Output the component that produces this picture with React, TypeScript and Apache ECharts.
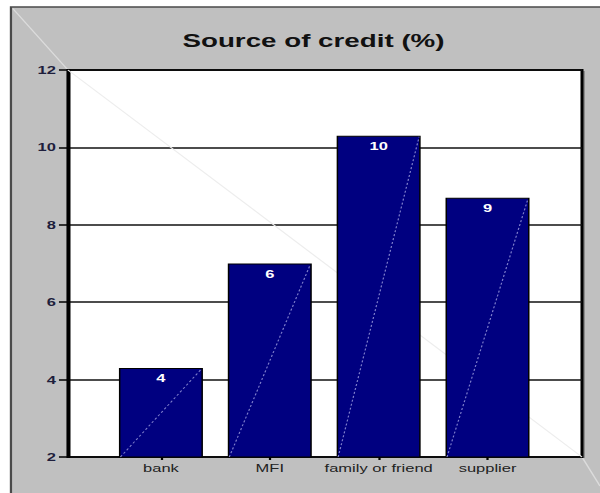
import React, { useEffect, useRef } from "react";
import * as echarts from "echarts";

const categories: string[] = ["bank", "MFI", "family or friend", "supplier"];
const values: number[] = [4.3, 7.0, 10.3, 8.7];
const barLabels: string[] = ["4", "6", "10", "9"];
const yMin = 2;
const yMax = 12;
const yInterval = 2;
const titleText = "Source of credit (%)";

// layout (natural, before horizontal stretch of 1.5)
const STRETCH = 1.5;
const W = 400;
const H = 493;
const PLOT_L = 45.3;
const PLOT_R = 388;
const PLOT_T = 70;
const PLOT_B = 457;
const BAND_L = 71;
const BAND_R = 361.3;
const BAR_W = 56;
const FONT = 'Arial, "Liberation Sans", Helvetica, sans-serif';

export default function App() {
  const ref = useRef<HTMLDivElement>(null);
  useEffect(() => {
    if (!ref.current) return;
    const chart = echarts.init(ref.current, undefined, { renderer: "svg" });
    const option: any = {
      animation: false,
      backgroundColor: "#ffffff",
      graphic: [
        {
          type: "rect",
          z: -10,
          shape: { x: 7.3, y: 7, width: W + 20, height: H + 20 },
          style: { fill: "#c0c0c0", stroke: "#4a4a4a", lineWidth: 1.5 },
        },
        {
          type: "line",
          z: -5,
          shape: { x1: 8.5, y1: 8.5, x2: PLOT_L, y2: PLOT_T },
          style: { stroke: "#dcdcdc", lineWidth: 1 },
        },
        {
          type: "line",
          z: -5,
          shape: { x1: PLOT_R, y1: PLOT_B, x2: W, y2: 486 },
          style: { stroke: "#dcdcdc", lineWidth: 1 },
        },
        {
          type: "line",
          z: -5,
          shape: { x1: PLOT_R + 1.3, y1: PLOT_T + 1, x2: PLOT_R + 1.3, y2: PLOT_B + 1 },
          style: { stroke: "#7a7a7a", lineWidth: 1 },
        },
        {
          type: "line",
          z: 1,
          shape: { x1: PLOT_L, y1: PLOT_T, x2: PLOT_R, y2: PLOT_B },
          style: { stroke: "#ededed", lineWidth: 1 },
        },
        {
          type: "text",
          z: 10,
          x: 209,
          y: 41,
          style: {
            text: titleText,
            font: `bold 18.5px ${FONT}`,
            fill: "#111111",
            textAlign: "center",
            textVerticalAlign: "middle",
          },
        },
      ],
      grid: [
        {
          left: PLOT_L,
          right: W - PLOT_R,
          top: PLOT_T,
          bottom: H - PLOT_B,
          show: true,
          backgroundColor: "#ffffff",
          borderColor: "#000000",
          borderWidth: 2,
        },
        {
          left: BAND_L,
          right: W - BAND_R,
          top: PLOT_T,
          bottom: H - PLOT_B,
          show: false,
        },
      ],
      xAxis: [
        { type: "value", gridIndex: 0, show: false, min: 0, max: 1 },
        {
          type: "category",
          gridIndex: 1,
          data: categories,
          axisLine: { show: false },
          axisTick: {
            show: true,
            alignWithLabel: true,
            length: 3,
            lineStyle: { color: "#000", width: 1.5 },
          },
          axisLabel: {
            margin: 6,
            fontFamily: FONT,
            fontSize: 11,
            color: "#222222",
            interval: 0,
          },
          splitLine: { show: false },
        },
      ],
      yAxis: [
        {
          type: "value",
          gridIndex: 0,
          min: yMin,
          max: yMax,
          interval: yInterval,
          axisLine: { show: true, lineStyle: { color: "#000", width: 2 } },
          axisTick: {
            show: true,
            length: 6,
            lineStyle: { color: "#000", width: 1.5 },
          },
          axisLabel: {
            margin: 8,
            fontFamily: FONT,
            fontSize: 11,
            fontWeight: "bold",
            color: "#1e1e3c",
          },
          splitLine: { show: true, lineStyle: { color: "#111", width: 1.5 } },
        },
        {
          type: "value",
          gridIndex: 1,
          min: yMin,
          max: yMax,
          interval: yInterval,
          show: false,
          splitLine: { show: false },
        },
      ],
      series: [
        {
          type: "bar",
          xAxisIndex: 1,
          yAxisIndex: 1,
          data: values,
          barWidth: BAR_W,
          z: 3,
          itemStyle: { color: "#000080", borderColor: "#000000", borderWidth: 1 },
          label: {
            show: true,
            position: "insideTop",
            distance: 5,
            color: "#ffffff",
            fontFamily: FONT,
            fontSize: 11,
            fontWeight: "bold",
            formatter: (p: any) => barLabels[p.dataIndex],
          },
        },
        {
          type: "custom",
          xAxisIndex: 1,
          yAxisIndex: 1,
          z: 4,
          silent: true,
          data: values.map((v, i) => [i, v]),
          renderItem: (params: any, api: any) => {
            const top = api.coord([api.value(0), api.value(1)]);
            const base = api.coord([api.value(0), yMin]);
            const half = BAR_W / 2 - 1;
            return {
              type: "line",
              shape: { x1: top[0] - half, y1: base[1], x2: top[0] + half, y2: top[1] + 1 },
              style: { stroke: "#7f7fcc", lineWidth: 0.8, lineDash: [2, 2] },
            };
          },
        },
      ],
    };
    chart.setOption(option);
    return () => chart.dispose();
  }, []);
  return (
    <div
      ref={ref}
      style={{
        position: "fixed",
        left: 0,
        top: 0,
        width: W,
        height: H,
        transform: `scaleX(${STRETCH})`,
        transformOrigin: "0 0",
      }}
    />
  );
}
